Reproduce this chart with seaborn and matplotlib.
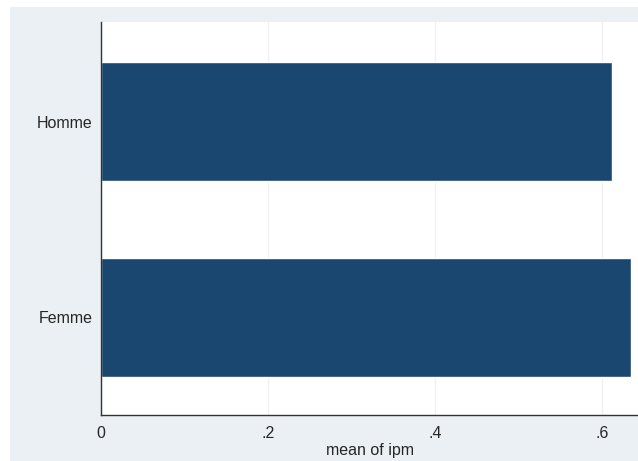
import pandas as pd
import seaborn as sns
import matplotlib.pyplot as plt
from matplotlib.patches import Rectangle

# données
categories = ['Homme', 'Femme']
mean_ipm = [0.612, 0.635]
xticks = [0, 0.2, 0.4, 0.6]
xtick_labels = ['0', '.2', '.4', '.6']

data = pd.DataFrame({'sexe': categories, 'ipm': mean_ipm})

sns.set_style('white')
plt.rcParams['font.family'] = ['Liberation Sans', 'DejaVu Sans']

fig = plt.figure(figsize=(6.38, 4.61), dpi=100)
fig.patch.set_facecolor('white')
# fond gris-bleu style Stata
fig.patches.append(Rectangle((10 / 638, 0), 1, 1 - 7 / 461, transform=fig.transFigure,
                             facecolor='#eaf0f3', edgecolor='none', zorder=-1))

ax = fig.add_axes([101 / 638, 46 / 461, 537 / 638, 393 / 461])
ax.set_facecolor('white')

sns.barplot(data=data, x='ipm', y='sexe', orient='h', color='#1a476f',
            saturation=1, width=0.61, errorbar=None, ax=ax)

ax.set_xlim(0, 0.643)
ax.set_ylim(1.5, -0.51)
ax.set_xticks(xticks)
ax.set_xticklabels(xtick_labels, fontsize=11.5)
ax.tick_params(axis='x', length=5, width=0.8, color='#333333', pad=3)
ax.tick_params(axis='y', length=0, labelsize=11.5, pad=6)
ax.grid(axis='x', color='#eef2f4', linewidth=1)
ax.set_axisbelow(True)
ax.set_xlabel('mean of ipm', fontsize=11.5, labelpad=1)
ax.set_ylabel('')

for s in ['top', 'right']:
    ax.spines[s].set_visible(False)
for s in ['left', 'bottom']:
    ax.spines[s].set_color('#333333')
    ax.spines[s].set_linewidth(1)

plt.savefig('out.png', dpi=100)
